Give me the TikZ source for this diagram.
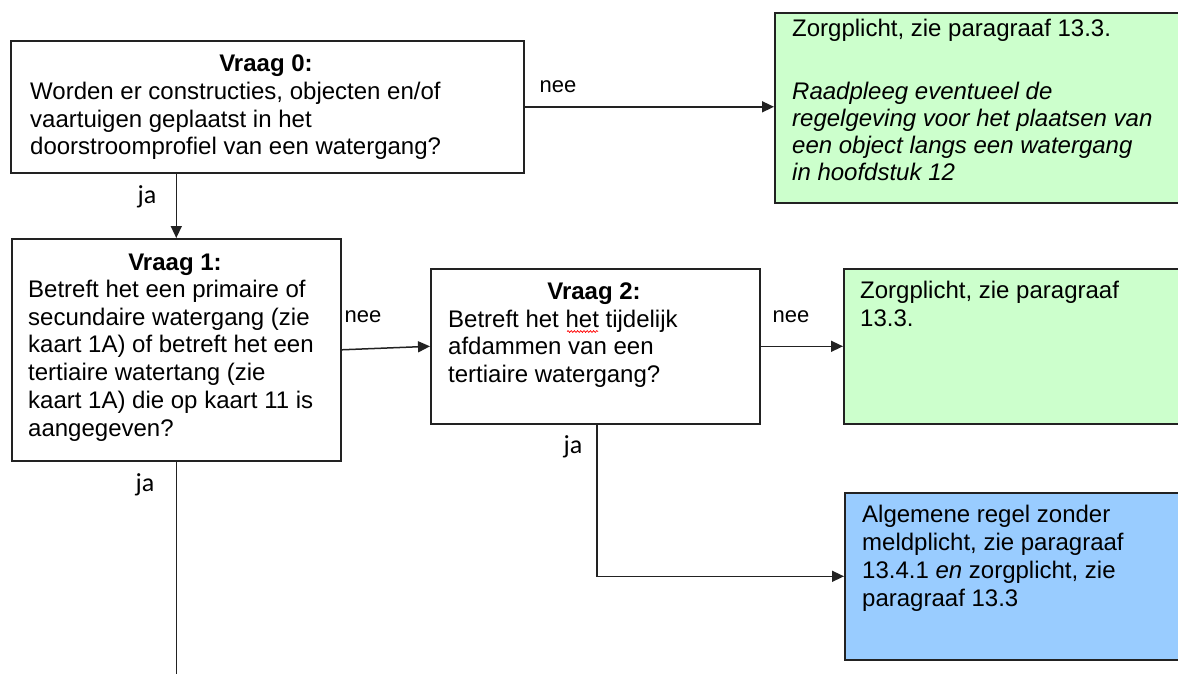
\documentclass[tikz,border=0pt]{standalone}
\usepackage{fontspec}
\setmainfont{Liberation Sans}
\newfontfamily\jafont{Carlito}
\usetikzlibrary{arrows.meta,decorations.pathmorphing}
\definecolor{okgreen}{HTML}{CCFFCC}
\definecolor{ruleblue}{HTML}{99CCFF}
\definecolor{edge}{HTML}{222222}

\begin{document}
\begin{tikzpicture}[x=1pt,y=-1pt,
  box/.style={draw=edge, line width=1.6pt, rectangle, inner sep=0pt, anchor=north west},
  txt/.style={anchor=base west, inner sep=0pt, font=\fontsize{24}{27.7}\selectfont},
  head/.style={anchor=base, inner sep=0pt, font=\fontsize{24}{27.7}\selectfont\bfseries},
  flow/.style={draw=edge, line width=1.5pt, -{Triangle[length=12pt,width=11pt]}},
  plain/.style={draw=edge, line width=1.5pt},
  neelbl/.style={inner sep=0pt, font=\fontsize{22}{26}\selectfont},
  jalbl/.style={inner sep=0pt, font=\jafont\fontsize{26}{30}\selectfont}
]
\useasboundingbox (0,0) rectangle (1178,674);
\clip (0,0) rectangle (1178,674);

% question boxes
\node[box, minimum width=513pt, minimum height=132pt] (q0) at (10,40) {};
\node[box, minimum width=329pt, minimum height=222pt] (q1) at (11,238) {};
\node[box, minimum width=329pt, minimum height=155pt] (q2) at (430,268) {};

% outcome boxes (running past the right edge)
\node[box, fill=okgreen, minimum width=420pt, minimum height=190pt] (g0) at (774,12) {};
\node[box, fill=okgreen, minimum width=350pt, minimum height=155pt] (g1) at (843,268) {};
\node[box, fill=ruleblue, minimum width=350pt, minimum height=167pt] (b1) at (844,492) {};

% question texts
\node[head] (h0) at (266,72) {Vraag 0:};
\node[txt] (t0) at (30,99.5) {\parbox[t]{490pt}{\raggedright
  Worden er constructies, objecten en/of\\
  vaartuigen geplaatst in het\\
  doorstroomprofiel van een watergang?}};

\node[head] (h1) at (175,270) {Vraag 1:};
\node[txt] (t1) at (28,297.5) {\parbox[t]{310pt}{\raggedright
  Betreft het een primaire of\\
  secundaire watergang (zie\\
  kaart 1A) of betreft het een\\
  tertiaire watertang (zie\\
  kaart 1A) die op kaart 11 is\\
  aangegeven?}};

\node[head] (h2) at (594,299) {Vraag 2:};
\node[txt] (t2) at (448,327) {\parbox[t]{310pt}{\raggedright
  Betreft het het tijdelijk\\
  afdammen van een\\
  tertiaire watergang?}};
\draw[red, line width=0.7pt, decorate,
      decoration={snake, amplitude=0.9pt, segment length=3.2pt}]
  (567,331.5) -- (598,331.5);

% outcome texts
\node[txt] (t3) at (792,37) {Zorgplicht, zie paragraaf 13.3.};
\node[txt] (t4) at (792,100) {\parbox[t]{380pt}{\raggedright\itshape
  \fontsize{24}{27}\selectfont
  Raadpleeg eventueel de\\
  regelgeving voor het plaatsen van\\
  een object langs een watergang\\
  in hoofdstuk 12}};

\node[txt] (t5) at (860,298) {\parbox[t]{310pt}{\raggedright
  \fontsize{24}{28.5}\selectfont
  Zorgplicht, zie paragraaf\\
  13.3.}};

\node[txt] (t6) at (862,522) {\parbox[t]{310pt}{\raggedright
  \fontsize{24}{28.3}\selectfont
  Algemene regel zonder\\
  meldplicht, zie paragraaf\\
  13.4.1 \textit{en} zorgplicht, zie\\
  paragraaf 13.3}};

% connectors
\draw[flow] (q0.east) -- (q0.east -| g0.west);
\draw[flow] (q1.north |- q0.south) -- (q1.north);
\draw[flow] (q1.east) -- (q2.west);
\draw[flow] (q2.east) -- (g1.west);
\draw[flow] (q2.south -| 597,0) |- (b1.west);
\coordinate (q1end) at (q1.south |- 0,680);
\draw[plain] (q1.south) -- (q1end);

% answer labels
\node[neelbl] (n0) at (558,87) {nee};
\node[neelbl] (n1) at (363,317) {nee};
\node[neelbl] (n2) at (791,317) {nee};
\node[jalbl] (j0) at (147,197) {ja};
\node[jalbl] (j1) at (573,447) {ja};
\node[jalbl] (j2) at (145,485) {ja};
\end{tikzpicture}
\end{document}
